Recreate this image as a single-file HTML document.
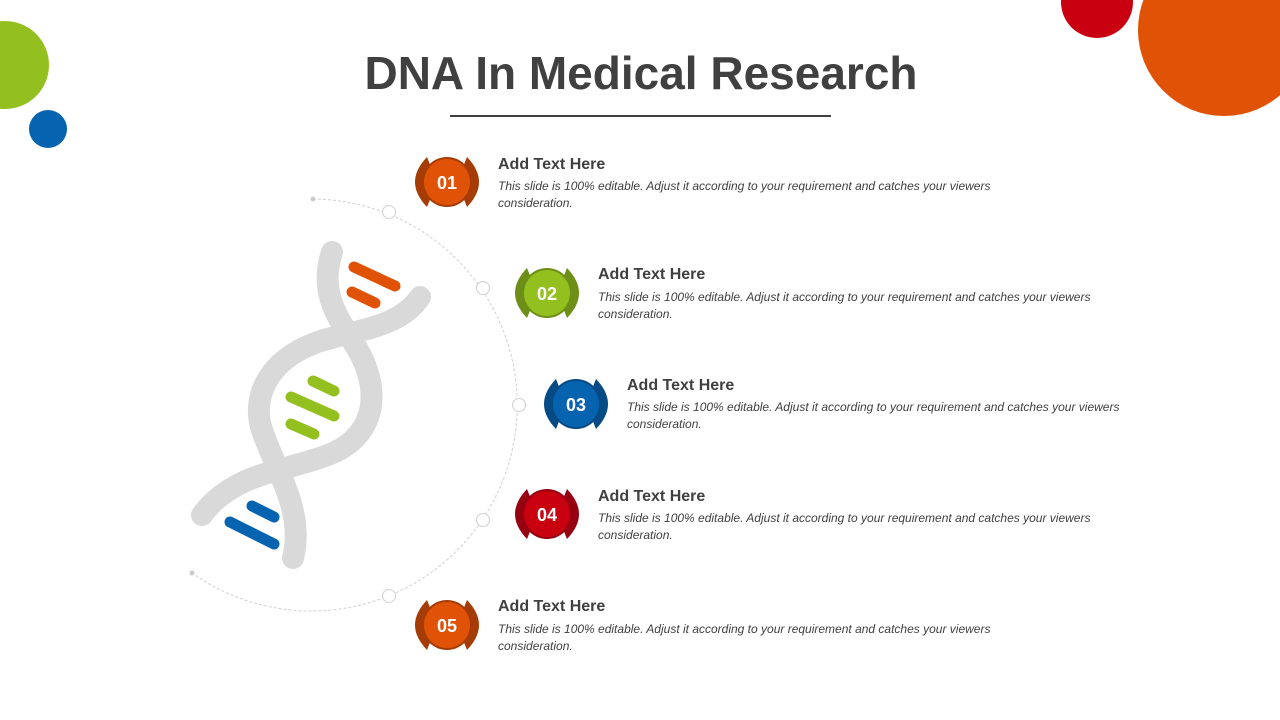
<!DOCTYPE html>
<html><head><meta charset="utf-8"><style>
body{margin:0;width:1280px;height:720px;overflow:hidden;background:#fff;font-family:"Liberation Sans",sans-serif;position:relative}
.t{position:absolute;color:#404040}
.h{font-weight:bold;font-size:16px}
.d{font-style:italic;font-size:12px;line-height:17px;width:560px}
</style></head><body>
<svg width="1280" height="720" style="position:absolute;left:0;top:0">
<circle cx="5" cy="65" r="44" fill="#93c01f"/>
<circle cx="48" cy="129" r="19" fill="#0563b0"/>
<circle cx="1097" cy="2" r="36" fill="#c8000f"/>
<circle cx="1224" cy="30" r="86" fill="#e05206"/>
<text x="641" y="89" text-anchor="middle" font-family="Liberation Sans" font-weight="bold" font-size="46" fill="#404040">DNA In Medical Research</text>
<line x1="450" y1="116" x2="831" y2="116" stroke="#404040" stroke-width="2"/>
<path d="M313 199 A206 206 0 1 1 192 573" fill="none" stroke="#d0d0d0" stroke-width="1" stroke-dasharray="3 2"/>
<circle cx="313" cy="199" r="2.5" fill="#ccc"/><circle cx="192" cy="573" r="2.5" fill="#ccc"/>
<g fill="#fff" stroke="#d0d0d0" stroke-width="1">
<circle cx="389" cy="212" r="6.5"/><circle cx="483" cy="288" r="6.5"/><circle cx="519" cy="405" r="6.5"/><circle cx="483" cy="520" r="6.5"/><circle cx="389" cy="596" r="6.5"/></g>
<g fill="none" stroke="#d9d9d9" stroke-width="22" stroke-linecap="round">
<path d="M332 252 C318 295,340 320,358 350 C378 385,380 430,335 452 C290 472,235 470,202 515"/>
<path d="M420 297 C398 330,350 330,315 343 C265 362,252 400,262 430 C275 470,305 510,293 558"/>
</g>
<g stroke-width="11" stroke-linecap="round">
<line x1="354" y1="267" x2="395" y2="286" stroke="#e05206"/>
<line x1="352" y1="292" x2="375" y2="303" stroke="#e05206"/>
<line x1="313" y1="381" x2="334" y2="391" stroke="#93c01f"/>
<line x1="291" y1="397" x2="334" y2="416" stroke="#93c01f"/>
<line x1="291" y1="424" x2="314" y2="434" stroke="#93c01f"/>
<line x1="252" y1="506" x2="274" y2="517" stroke="#0563b0"/>
<line x1="230" y1="522" x2="274" y2="544" stroke="#0563b0"/>
</g>
<defs><g id="b">
<path d="M-20 -25 Q-44 0 -20 25 L-10 0 Z"/>
<path d="M20 -25 Q44 0 20 25 L10 0 Z"/>
<circle r="25"/></g></defs>
<g transform="translate(447,182)"><use href="#b" fill="#a63c05"/><circle r="23" fill="#e05206"/><text y="7" text-anchor="middle" font-family="Liberation Sans" font-weight="bold" font-size="18" fill="#fff">01</text></g>
<g transform="translate(547,293)"><use href="#b" fill="#6e8f17"/><circle r="23" fill="#93c01f"/><text y="7" text-anchor="middle" font-family="Liberation Sans" font-weight="bold" font-size="18" fill="#fff">02</text></g>
<g transform="translate(576,404)"><use href="#b" fill="#044a85"/><circle r="23" fill="#0563b0"/><text y="7" text-anchor="middle" font-family="Liberation Sans" font-weight="bold" font-size="18" fill="#fff">03</text></g>
<g transform="translate(547,514)"><use href="#b" fill="#960010"/><circle r="23" fill="#c8000f"/><text y="7" text-anchor="middle" font-family="Liberation Sans" font-weight="bold" font-size="18" fill="#fff">04</text></g>
<g transform="translate(447,625)"><use href="#b" fill="#a63c05"/><circle r="23" fill="#e05206"/><text y="7" text-anchor="middle" font-family="Liberation Sans" font-weight="bold" font-size="18" fill="#fff">05</text></g>
</svg>
<div class="t h" style="left:498px;top:156px">Add Text Here</div>
<div class="t d" style="left:498px;top:178px">This slide is 100% editable. Adjust it according to your requirement and catches your viewers consideration.</div>
<div class="t h" style="left:598px;top:266px">Add Text Here</div>
<div class="t d" style="left:598px;top:289px">This slide is 100% editable. Adjust it according to your requirement and catches your viewers consideration.</div>
<div class="t h" style="left:627px;top:377px">Add Text Here</div>
<div class="t d" style="left:627px;top:399px">This slide is 100% editable. Adjust it according to your requirement and catches your viewers consideration.</div>
<div class="t h" style="left:598px;top:488px">Add Text Here</div>
<div class="t d" style="left:598px;top:510px">This slide is 100% editable. Adjust it according to your requirement and catches your viewers consideration.</div>
<div class="t h" style="left:498px;top:598px">Add Text Here</div>
<div class="t d" style="left:498px;top:621px">This slide is 100% editable. Adjust it according to your requirement and catches your viewers consideration.</div>
</body></html>
